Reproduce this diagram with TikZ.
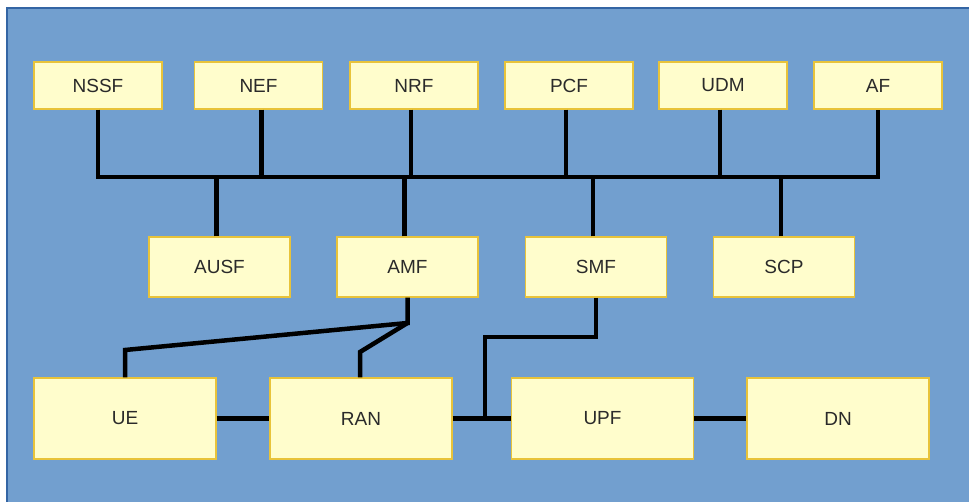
\documentclass[tikz,border=0pt]{standalone}
\usepackage{fontspec}
\setmainfont{Liberation Sans}
\usetikzlibrary{positioning}
\definecolor{bgblue}{HTML}{729FCF}
\definecolor{bgedge}{HTML}{3465A4}
\definecolor{nfyellow}{HTML}{FFFDCC}
\definecolor{nfedge}{HTML}{E8C33A}
\definecolor{nftext}{HTML}{2A2A2A}

\begin{document}
\begin{tikzpicture}[x=1pt, y=-1pt, line join=miter,
  nf/.style={draw=nfedge, line width=1.2pt, fill=nfyellow, inner sep=0pt, text=nftext, font=\fontsize{19}{21}\selectfont},
  top/.style={nf, minimum width=128pt, minimum height=47pt},
  mid/.style={nf, minimum width=141pt, minimum height=60pt},
  low/.style={nf, minimum width=182pt, minimum height=81pt},
  link/.style={line width=4.5pt, black}]
\useasboundingbox (0,0) rectangle (969,502);
\clip (0,0) rectangle (969,502);
\filldraw[fill=bgblue, draw=bgedge, line width=1.5pt] (7,8) rectangle (975,510);
% top row
\node[top] (nssf) at (98,85.5) {NSSF};
\node[top] (nef) at (258.5,85.5) {NEF};
\node[top] (nrf) at (414,85.5) {NRF};
\node[top] (pcf) at (569,85.5) {PCF};
\node[top] (udm) at (723,85.5) {UDM};
\node[top] (af) at (878,85.5) {AF};
% middle row
\node[mid] (ausf) at (219.5,267) {AUSF};
\node[mid] (amf) at (407.5,267) {AMF};
\node[mid] (smf) at (596,267) {SMF};
\node[mid] (scp) at (784,267) {SCP};
% bottom row
\node[low] (ue) at (125,418.5) {UE};
\node[low] (ran) at (361,418.5) {RAN};
\node[low] (upf) at (602.5,418.5) {UPF};
\node[low] (dn) at (838,418.5) {DN};
% service bus
\coordinate (busl) at (98,177);
\coordinate (busr) at (878,177);
\draw[link] (nssf.south) -- (busl) -- (busr) -- (af.south);
\draw[link] (nef.south) ++(3,0) -- ++(0,68);
\draw[link] (nrf.south) ++(-3,0) -- ++(0,68);
\draw[link] (pcf.south) ++(-3,0) -- ++(0,68);
\draw[link] (udm.south) ++(-3,0) -- ++(0,68);
\foreach \n in {ausf,amf,smf,scp} \draw[link] ([xshift=-3pt]\n.north) -- ([xshift=-3pt]\n.north |- busl);
% access side
\coordinate (amfj) at (407.5,323);
\coordinate (uek) at (125,350);
\coordinate (rank) at (360,352);
\coordinate (smfk) at (596,337);
\coordinate (smfj) at (485,418.5);
\draw[link] (amf.south) -- (amfj) -- (uek) -- (ue.north);
\draw[link] (amfj) -- (rank) -- (ran.north -| rank);
\draw[link] (smf.south) -- (smfk) -- (smfk -| smfj) -- (smfj);
\draw[link] (ue) -- (ran); \draw[link] (ran) -- (upf); \draw[link] (upf) -- (dn);
\end{tikzpicture}
\end{document}
